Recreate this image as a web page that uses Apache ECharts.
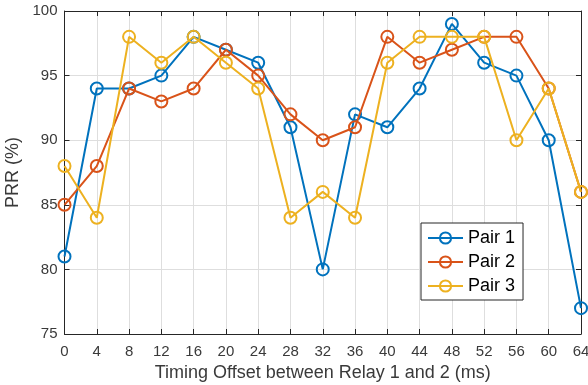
<!DOCTYPE html>
<html>
<head>
<meta charset="utf-8">
<script src="https://cdn.jsdelivr.net/npm/echarts@6/dist/echarts.min.js"></script>
<style>
  html, body { margin: 0; padding: 0; background: #fff; }
  #chart { width: 588px; height: 385px; }
</style>
</head>
<body>
<div id="chart"></div>
<script>
// Timing offsets between relay 1 and relay 2 (ms)
const offsets = [0, 4, 8, 12, 16, 20, 24, 28, 32, 36, 40, 44, 48, 52, 56, 60, 64];

// Packet reception ratio (%) for each relay pair
const pair1 = [81, 94, 94, 95, 98, 97, 96, 91, 80, 92, 91, 94, 99, 96, 95, 90, 77];
const pair2 = [85, 88, 94, 93, 94, 97, 95, 92, 90, 91, 98, 96, 97, 98, 98, 94, 86];
const pair3 = [88, 84, 98, 96, 98, 96, 94, 84, 86, 84, 96, 98, 98, 98, 90, 94, 86];

const yTicks = [75, 80, 85, 90, 95, 100];

const seriesNames = ['Pair 1', 'Pair 2', 'Pair 3'];
const seriesData = [pair1, pair2, pair3];
const colors = ['#0072BD', '#D95319', '#EDB120'];

const axisColor = '#262626';
const labelColor = '#3a3a3a';
const gridColor = '#dedede';
const font = 'Liberation Sans, Arial, Helvetica, sans-serif';

const chart = echarts.init(document.getElementById('chart'), null, { renderer: 'canvas' });

const baseX = {
  type: 'value',
  min: 0, max: 64, interval: 4,
  axisLine: { show: true, onZero: false, lineStyle: { color: axisColor, width: 1 } },
  axisTick: { show: true, inside: true, length: 5, lineStyle: { color: axisColor } },
  splitLine: { show: false }
};
const baseY = {
  type: 'value',
  min: yTicks[0], max: yTicks[yTicks.length - 1], interval: 5,
  axisLine: { show: true, onZero: false, lineStyle: { color: axisColor, width: 1 } },
  axisTick: { show: true, inside: true, length: 5, lineStyle: { color: axisColor } },
  splitLine: { show: false }
};

chart.setOption({
  animation: false,
  color: colors,
  grid: {
    left: 64.5, right: 7, top: 11, bottom: 51,
    containLabel: false,
    outerBoundsMode: 'none'
  },
  xAxis: [
    Object.assign({}, baseX, {
      position: 'bottom',
      name: 'Timing Offset between Relay 1 and 2 (ms)',
      nameLocation: 'middle',
      nameGap: 26,
      nameTextStyle: { fontFamily: font, fontSize: 18, color: labelColor },
      axisLabel: { show: true, margin: 10, fontFamily: font, fontSize: 15, color: labelColor },
      splitLine: { show: true, lineStyle: { color: gridColor, width: 1 } }
    }),
    Object.assign({}, baseX, {
      position: 'top',
      axisLabel: { show: false }
    })
  ],
  yAxis: [
    Object.assign({}, baseY, {
      position: 'left',
      name: 'PRR (%)',
      nameLocation: 'middle',
      nameGap: 40,
      nameTextStyle: { fontFamily: font, fontSize: 18, color: labelColor },
      axisLabel: { show: true, margin: 7, fontFamily: font, fontSize: 15, color: labelColor },
      splitLine: { show: true, lineStyle: { color: gridColor, width: 1 } }
    }),
    Object.assign({}, baseY, {
      position: 'right',
      axisLabel: { show: false }
    })
  ],
  legend: {
    orient: 'vertical',
    left: 421, top: 223,
    padding: [6, 8, 5, 6],
    itemGap: 6,
    itemWidth: 35,
    itemHeight: 14,
    backgroundColor: '#fff',
    borderColor: axisColor,
    borderWidth: 1,
    borderRadius: 0,
    textStyle: { fontFamily: font, fontSize: 18, color: '#000' },
    data: seriesNames
  },
  series: seriesNames.map((name, i) => ({
    name: name,
    type: 'line',
    xAxisIndex: 0,
    yAxisIndex: 0,
    data: offsets.map((x, j) => [x, seriesData[i][j]]),
    symbol: 'circle',
    symbolSize: 12,
    showAllSymbol: true,
    lineStyle: { color: colors[i], width: 2 },
    itemStyle: { color: 'rgba(255,255,255,0)', borderColor: colors[i], borderWidth: 2 },
    emphasis: { disabled: true },
    z: 2 + i
  }))
});
</script>
</body>
</html>
